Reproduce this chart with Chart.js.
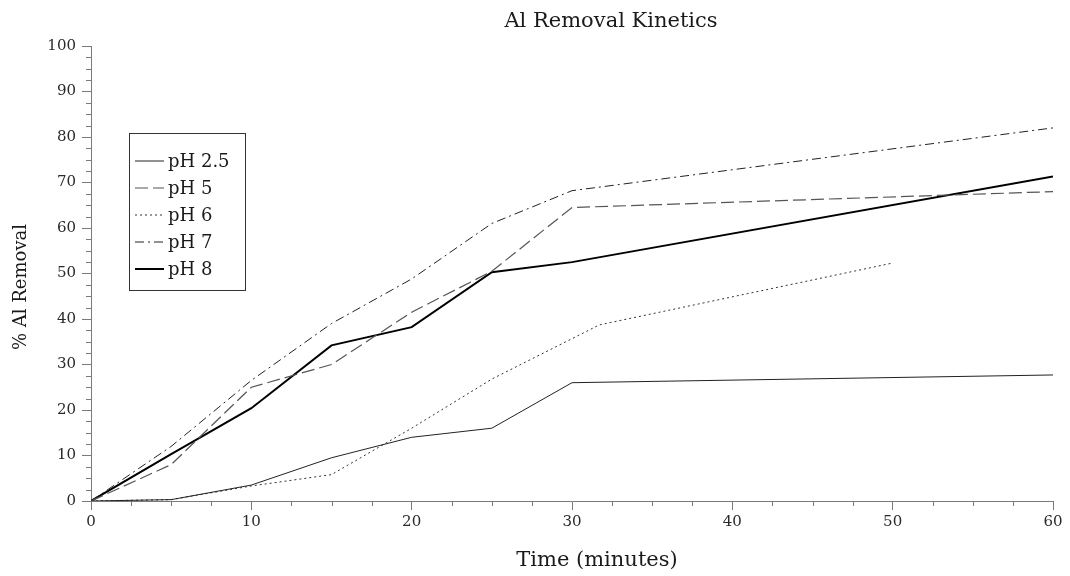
<!DOCTYPE html>
<html>
<head>
<meta charset="utf-8">
<title>Al Removal Kinetics</title>
<script src="https://cdn.jsdelivr.net/npm/chart.js@4.4.1/dist/chart.umd.min.js"></script>
<style>
  html, body { margin: 0; padding: 0; background: #ffffff; }
  #wrap { width: 1070px; height: 576px; }
</style>
</head>
<body>
<div id="wrap"><canvas id="chart" width="1070" height="576"></canvas></div>
<script>
// Sampling times (minutes)
const times = [0, 5, 10, 15, 20, 25, 30, 60];
const ph6Times = [0, 5, 10, 15, 20, 25, 31.7, 50];

// % Al removal per pH
const ph25 = [0, 0.3, 3.5, 9.5, 14, 16, 26, 27.7];
const ph5 = [0, 8, 25, 30, 41.5, 50.5, 64.5, 68];
const ph6 = [0, 0.3, 3.3, 5.8, 16, 26.8, 38.7, 52.3];
const ph7 = [0, 12, 26.5, 39, 48.8, 61, 68.2, 82];
const ph8 = [0, 10.3, 20.4, 34.2, 38.2, 50.3, 52.5, 71.3];

const seriesLabels = ['pH 2.5', 'pH 5', 'pH 6', 'pH 7', 'pH 8'];

const FONT = '"DejaVu Serif", "Liberation Serif", serif';
const AXIS_GRAY = '#7a7a7a';

const toPoints = (xs, ys) => xs.map((x, i) => ({ x: x, y: ys[i] }));

// title, axis titles, legend box and minor ticks
const paperDecor = {
    id: 'paperDecor',
    afterDraw(chart) {
        const ctx = chart.ctx;
        const xs = chart.scales.x;
        const ys = chart.scales.y;
        ctx.save();

        // minor ticks every 2.5
        ctx.strokeStyle = AXIS_GRAY;
        ctx.lineWidth = 1;
        ctx.beginPath();
        for (let v = 2.5; v < 60; v += 2.5) {
            if (v % 10 === 0) continue;
            const px = Math.round(xs.getPixelForValue(v)) + 0.5;
            ctx.moveTo(px, ys.bottom);
            ctx.lineTo(px, ys.bottom + 5);
        }
        for (let v = 2.5; v < 100; v += 2.5) {
            if (v % 10 === 0) continue;
            const py = Math.round(ys.getPixelForValue(v)) + 0.5;
            ctx.moveTo(xs.left, py);
            ctx.lineTo(xs.left - 5, py);
        }
        ctx.stroke();

        // titles
        ctx.fillStyle = '#1a1a1a';
        ctx.textAlign = 'center';
        ctx.textBaseline = 'middle';
        ctx.font = '21px ' + FONT;
        ctx.fillText('Al Removal Kinetics', 611, 22);
        ctx.fillText('Time (minutes)', 597, 561);

        ctx.save();
        ctx.translate(21, 287);
        ctx.rotate(-Math.PI / 2);
        ctx.font = '18px ' + FONT;
        ctx.fillText('% Al Removal', 0, 0);
        ctx.restore();

        // legend
        const box = { left: 129.5, top: 133.5, w: 116, h: 157 };
        ctx.fillStyle = '#fff';
        ctx.fillRect(box.left, box.top, box.w, box.h);
        ctx.strokeStyle = '#333';
        ctx.lineWidth = 1;
        ctx.strokeRect(box.left, box.top, box.w, box.h);

        ctx.font = '18px ' + FONT;
        ctx.textAlign = 'left';
        chart.data.datasets.forEach((ds, i) => {
            const y = 161 + i * 27;
            ctx.save();
            ctx.strokeStyle = ds.borderColor;
            ctx.lineWidth = ds.borderWidth;
            ctx.setLineDash(ds.borderDash || []);
            ctx.beginPath();
            ctx.moveTo(135, y);
            ctx.lineTo(164, y);
            ctx.stroke();
            ctx.restore();
            ctx.fillStyle = '#1a1a1a';
            ctx.fillText(ds.label, 168, y + 1);
        });

        ctx.restore();
    }
};

new Chart(document.getElementById('chart'), {
    type: 'line',
    data: {
        datasets: [
            { label: seriesLabels[0], data: toPoints(times, ph25), borderColor: '#222', borderWidth: 1 },
            { label: seriesLabels[1], data: toPoints(times, ph5), borderColor: '#555', borderWidth: 1.2, borderDash: [13, 5] },
            { label: seriesLabels[2], data: toPoints(ph6Times, ph6), borderColor: '#333', borderWidth: 1, borderDash: [2, 3] },
            { label: seriesLabels[3], data: toPoints(times, ph7), borderColor: '#222', borderWidth: 1, borderDash: [9, 4, 2, 4] },
            { label: seriesLabels[4], data: toPoints(times, ph8), borderColor: '#000', borderWidth: 2 },
        ]
    },
    options: {
        responsive: false,
        animation: false,
        devicePixelRatio: 1,
        layout: { padding: { top: 46, right: 17, left: 0, bottom: 0 } },
        elements: {
            point: { radius: 0, hoverRadius: 0 },
            line: { tension: 0, fill: false }
        },
        plugins: {
            legend: { display: false },
            title: { display: false },
            tooltip: { enabled: false }
        },
        scales: {
            x: {
                type: 'linear',
                min: 0,
                max: 60,
                afterFit: (s) => { s.height = 75; },
                ticks: {
                    stepSize: 10,
                    padding: 3,
                    color: '#2a2a2a',
                    font: { family: FONT, size: 15 }
                },
                grid: {
                    drawOnChartArea: false,
                    drawTicks: true,
                    tickLength: 9,
                    color: AXIS_GRAY
                },
                border: { display: true, color: AXIS_GRAY, width: 1 }
            },
            y: {
                min: 0,
                max: 100,
                afterFit: (s) => { s.width = 91; },
                ticks: {
                    stepSize: 10,
                    padding: 6,
                    color: '#2a2a2a',
                    font: { family: FONT, size: 15 }
                },
                grid: {
                    drawOnChartArea: false,
                    drawTicks: true,
                    tickLength: 9,
                    color: AXIS_GRAY
                },
                border: { display: true, color: AXIS_GRAY, width: 1 }
            }
        }
    },
    plugins: [paperDecor]
});
</script>
</body>
</html>
